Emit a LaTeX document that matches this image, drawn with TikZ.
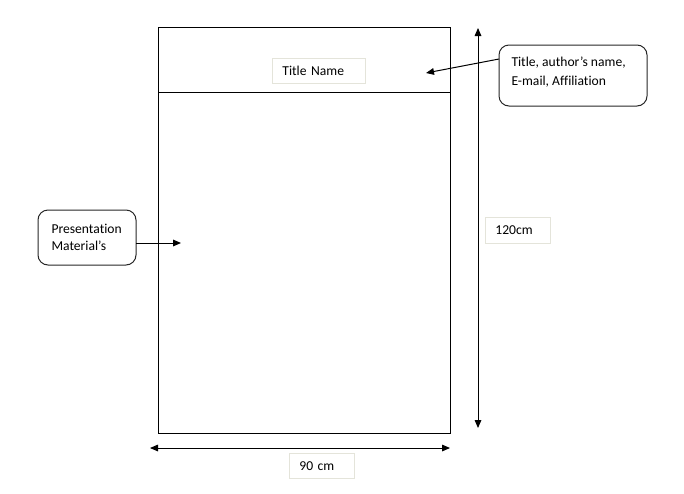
\documentclass[tikz,border=0pt]{standalone}
\usepackage{fontspec}
\setmainfont{Carlito}[Ligatures={NoCommon}]
\usetikzlibrary{arrows.meta}
\definecolor{boxline}{HTML}{E4E4DA}
\begin{document}
\begin{tikzpicture}[x=0.75pt,y=-0.75pt,
  line width=0.75pt,
  every node/.style={font=\fontsize{10.2pt}{13pt}\selectfont},
  arr/.style={-{Triangle[length=6pt,width=5pt]}},
  dblarr/.style={{Triangle[length=6pt,width=5pt]}-{Triangle[length=6pt,width=5pt]}},
  labelbox/.style={draw=boxline,line width=0.6pt,inner xsep=7.5pt,inner ysep=0pt,
    anchor=west,minimum height=19pt,text width=#1,align=left},
  callout/.style={draw=black!85,rounded corners=7.5pt,line width=0.75pt,inner sep=0pt},
  callouttext/.style={anchor=north west,inner sep=0pt,align=left}
]
\useasboundingbox (0,0) rectangle (684,493);
% poster
\draw (158,27) coordinate (pnw) rectangle (450,433) coordinate (pse);
\coordinate (dl) at (158,92);
\coordinate (dr) at (450,92);
\draw (dl) -- (dr);
% title name box
\node[labelbox=55pt] (title) at (272,71) {Title Name};
% right callout
\node[callout,minimum width=111pt,minimum height=45.75pt] (rc) at (573,75.5) {};
\node[callouttext,font=\fontsize{10.2pt}{14.4pt}\selectfont] (rct) at (511,56) {Title, author’s name,\\E-mail, Affiliation};
\coordinate (rcs) at (499,59);
\coordinate (rtip) at (426,73);
\draw[arr] (rcs) -- (rtip);
% left callout
\node[callout,minimum width=73.5pt,minimum height=41.25pt] (lc) at (87,237.5) {};
\node[callouttext,font=\fontsize{10.2pt}{12.8pt}\selectfont] (lct) at (51,223.5) {Presentation\\Material’s};
\coordinate (lcs) at (136,243);
\coordinate (ltip) at (181,243);
\draw[arr] (lcs) -- (ltip);
% vertical dimension
\coordinate (vt) at (478,28);
\coordinate (vb) at (478,428);
\draw[dblarr] (vb) -- (vt);
\node[labelbox=34pt] (h) at (485,230.5) {120cm};
% horizontal dimension
\coordinate (hl) at (150,448);
\coordinate (hr) at (450,448);
\draw[dblarr] (hl) -- (hr);
\node[labelbox=34pt] (w) at (289,466) {90 cm};
\end{tikzpicture}
\end{document}
